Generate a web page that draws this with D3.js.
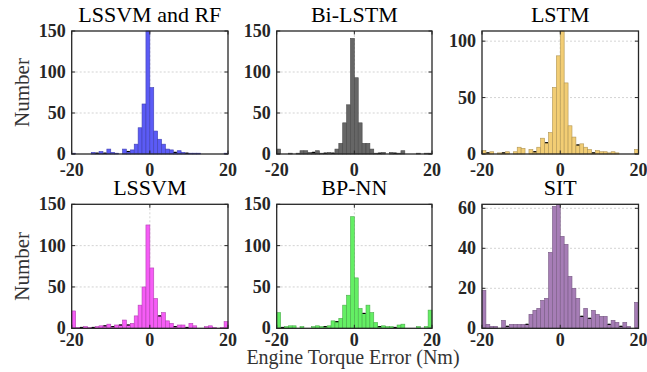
<!DOCTYPE html>
<html>
<head>
<meta charset="utf-8">
<script src="https://cdn.jsdelivr.net/npm/d3@7"></script>
<style>
  body { margin: 0; background: #fff; }
  svg { font-family: "Times New Roman", "Liberation Serif", Tinos, serif; }
  .title { font-size: 22px; text-anchor: middle; }
  .tick-label { font-size: 18px; font-weight: bold; }
  .ylab { font-size: 21px; text-anchor: middle; }
  .xlab { font-size: 20px; text-anchor: middle; fill: #333; }
</style>
</head>
<body>
<div id="chart"></div>
<script>
// data: counts per 1 Nm bin, from -20 to 20 (40 bins)
const titles = ["LSSVM and RF", "Bi-LSTM", "LSTM", "LSSVM", "BP-NN", "SIT"];

const lssvmRf = [1,0,0,0,0,2,1,3,1,6,2,1,0,6,3,5,12,32,61,150,81,28,18,12,6,5,2,4,2,1,1,1,1,0,0,0,0,0,0,1];
const biLstm  = [6,0,0,1,0,1,4,4,2,2,4,1,1,2,1,6,13,38,60,141,93,38,13,13,6,1,1,2,0,2,1,1,4,0,0,0,1,0,1,1];
const lstm    = [3,1,2,0,1,1,2,0,2,6,5,0,4,2,6,14,10,19,59,87,109,63,25,15,8,9,6,4,1,3,2,2,1,2,1,0,0,0,0,4];
const lssvm   = [21,1,1,2,1,1,2,3,3,5,2,4,4,10,4,6,15,28,50,125,73,36,15,19,9,6,2,4,4,1,6,3,0,0,2,3,1,0,1,8];
const bpNn    = [19,1,2,3,3,0,2,0,0,2,3,2,2,3,9,8,12,28,40,135,61,24,18,28,19,7,2,3,2,2,1,4,5,0,0,0,2,0,2,22];
const sit     = [19,2,1,1,0,4,1,2,2,2,2,2,7,9,10,14,15,38,61,62,46,42,26,20,15,6,10,5,9,7,6,6,2,4,3,1,3,1,0,13];

const series = [lssvmRf, biLstm, lstm, lssvm, bpNn, sit];

// bins whose top edge shows as a black dash
const darkTops = [
  [6,8,14,26,29],
  [9,12,14,26,30],
  [1,5,13,16,24,28],
  [2,5,8,10,12,14,22,26,29],
  [1,12,15,22,26,30],
  [6,11,25,27,32,35]
];

const yMax = [150, 150, 109, 150, 150, 62];
const yTicks = [
  [0,50,100,150],
  [0,50,100,150],
  [0,50,100],
  [0,50,100,150],
  [0,50,100,150],
  [0,20,40,60]
];
const xTicks = [-20, 0, 20];
const binEdges = d3.range(-20, 21, 1);

const colors = ["#5b5bf6", "#666666", "#f2cd74", "#f65cf6", "#64ef64", "#a67db6"];

// dimensions
const WIDTH = 647;
const HEIGHT = 372;
const COLS = [[71.7, 228], [276.7, 432], [482, 638.5]];
const ROWS = [[31, 154], [204.3, 328.3]];
const X_LABEL_Y = [176, 346];

const $svg = d3.select('#chart').append('svg')
  .attr('width', WIDTH)
  .attr('height', HEIGHT);

series.forEach((counts, i) => {
  const col = COLS[i % 3];
  const row = ROWS[Math.floor(i / 3)];

  const x = d3.scaleLinear().domain([-20, 20]).range(col);
  const y = d3.scaleLinear().domain([0, yMax[i]]).range([row[1], row[0]]);

  const $g = $svg.append('g').attr('class', 'panel');
  const fill = colors[i];
  const edge = d3.color(fill).darker(0.9).formatHex();

  // grid
  $g.selectAll('.ygrid')
    .data(yTicks[i].filter(t => t > 0 && t < yMax[i]))
    .join('line')
    .attr('x1', col[0]).attr('x2', col[1])
    .attr('y1', d => y(d)).attr('y2', d => y(d))
    .attr('stroke', '#c8c8c8')
    .attr('stroke-width', 0.8)
    .attr('stroke-dasharray', '2,2');

  $g.append('line')
    .attr('x1', x(0)).attr('x2', x(0))
    .attr('y1', row[0]).attr('y2', row[1])
    .attr('stroke', '#c8c8c8')
    .attr('stroke-width', 0.8)
    .attr('stroke-dasharray', '2,2');

  // bars
  const bins = counts.map((c, k) => ({ x0: binEdges[k], x1: binEdges[k + 1], c, k }));

  $g.selectAll('.bar')
    .data(bins.filter(d => d.c > 0))
    .join('rect')
    .attr('x', d => x(d.x0))
    .attr('width', d => x(d.x1) - x(d.x0))
    .attr('y', d => y(d.c))
    .attr('height', d => y(0) - y(d.c))
    .attr('fill', fill)
    .attr('stroke', edge)
    .attr('stroke-width', 0.6);

  $g.selectAll('.dash')
    .data(bins.filter(d => darkTops[i].includes(d.k) && d.c > 0))
    .join('line')
    .attr('x1', d => x(d.x0) + 0.5).attr('x2', d => x(d.x1) - 0.5)
    .attr('y1', d => y(d.c)).attr('y2', d => y(d.c))
    .attr('stroke', '#000')
    .attr('stroke-width', 1.2);

  // box + inner ticks
  $g.append('rect')
    .attr('x', col[0]).attr('y', row[0])
    .attr('width', col[1] - col[0]).attr('height', row[1] - row[0])
    .attr('fill', 'none')
    .attr('stroke', '#262626')
    .attr('stroke-width', 1.3);

  const TICK = 3.5;
  yTicks[i].forEach(t => {
    [[col[0], col[0] + TICK], [col[1], col[1] - TICK]].forEach(([a, b]) => {
      $g.append('line')
        .attr('x1', a).attr('x2', b)
        .attr('y1', y(t)).attr('y2', y(t))
        .attr('stroke', '#262626').attr('stroke-width', 1);
    });
  });
  xTicks.forEach(t => {
    [[row[1], row[1] - TICK], [row[0], row[0] + TICK]].forEach(([a, b]) => {
      $g.append('line')
        .attr('x1', x(t)).attr('x2', x(t))
        .attr('y1', a).attr('y2', b)
        .attr('stroke', '#262626').attr('stroke-width', 1);
    });
  });

  // tick labels
  $g.selectAll('.ylab-tick')
    .data(yTicks[i])
    .join('text')
    .attr('class', 'tick-label')
    .attr('x', col[0] - 6)
    .attr('y', d => y(d))
    .attr('dy', '0.34em')
    .attr('text-anchor', 'end')
    .attr('fill', '#262626')
    .text(d => d);

  $g.selectAll('.xlab-tick')
    .data(xTicks)
    .join('text')
    .attr('class', 'tick-label')
    .attr('x', d => x(d))
    .attr('y', X_LABEL_Y[Math.floor(i / 3)])
    .attr('text-anchor', 'middle')
    .attr('fill', '#262626')
    .text(d => d);

  // title
  $g.append('text')
    .attr('class', 'title')
    .attr('x', (col[0] + col[1]) / 2)
    .attr('y', row[0] - 9)
    .text(titles[i]);

  if (i % 3 === 0) {
    $g.append('text')
      .attr('class', 'ylab')
      .attr('transform', `translate(29, ${(row[0] + row[1]) / 2}) rotate(-90)`)
      .attr('fill', '#333')
      .text('Number');
  }
});

$svg.append('text')
  .attr('class', 'xlab')
  .attr('x', 353)
  .attr('y', 364)
  .text('Engine Torque Error (Nm)');
</script>
</body>
</html>
